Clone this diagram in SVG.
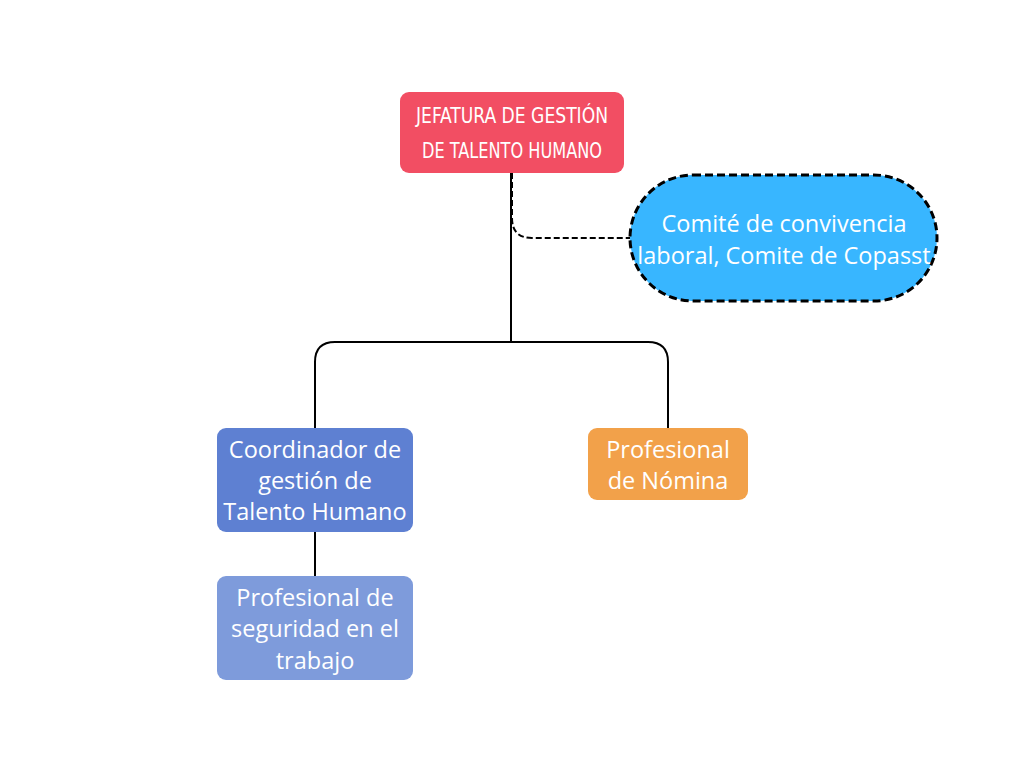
<svg xmlns="http://www.w3.org/2000/svg" width="1024" height="768" viewBox="0 0 1024 768">
<defs>
<style>
.t{font-family:"Open Sans","Noto Sans",sans-serif;font-size:23.5px;fill:#ffffff;text-anchor:middle}
.h{font-family:"DejaVu Sans Condensed","DejaVu Sans",sans-serif;font-size:21px;fill:#ffffff;text-anchor:middle;font-weight:300}
.c{fill:none;stroke:#000000;stroke-width:2}
.d{fill:none;stroke:#000000;stroke-width:2;stroke-dasharray:6 3}
</style>
<clipPath id="pill"><rect x="630" y="175" width="307" height="126" rx="63"/></clipPath>
</defs>
<rect width="1024" height="768" fill="#ffffff"/>
<g id="connectors">
<path class="c" d="M511 173 V342"/>
<path class="c" d="M315 428 V362 Q315 342 335 342 H648 Q668 342 668 362 V428"/>
<path class="c" d="M315 532 V576"/>
<path class="d" d="M512 173 V218 Q512 238 532 238 H630"/>
</g>
<g id="jefatura">
<rect x="400" y="92" width="224" height="81" rx="9" fill="#F24E63"/>
<text class="h" x="512" y="123" textLength="192" lengthAdjust="spacingAndGlyphs">JEFATURA DE GESTIÓN</text>
<text class="h" x="512" y="158" textLength="180" lengthAdjust="spacingAndGlyphs">DE TALENTO HUMANO</text>
</g>
<g id="comite">
<rect x="630" y="175" width="307" height="126" rx="63" fill="#38B6FF" stroke="#000000" stroke-width="3" stroke-dasharray="8 4"/>
<g clip-path="url(#pill)">
<text class="t" x="784" y="232">Comité de convivencia</text>
<text class="t" x="784" y="264">laboral, Comite de Copasst</text>
</g>
</g>
<g id="coordinador">
<rect x="217" y="428" width="196" height="104" rx="9" fill="#5E80D2"/>
<text class="t" x="315" y="458">Coordinador de</text>
<text class="t" x="315" y="489">gestión de</text>
<text class="t" x="315" y="520">Talento Humano</text>
</g>
<g id="nomina">
<rect x="588" y="428" width="160" height="72" rx="9" fill="#F2A14A"/>
<text class="t" x="668" y="458">Profesional</text>
<text class="t" x="668" y="489">de Nómina</text>
</g>
<g id="seguridad">
<rect x="217" y="576" width="196" height="104" rx="9" fill="#7E9BDB"/>
<text class="t" x="315" y="606">Profesional de</text>
<text class="t" x="315" y="637">seguridad en el</text>
<text class="t" x="315" y="669">trabajo</text>
</g>
</svg>
